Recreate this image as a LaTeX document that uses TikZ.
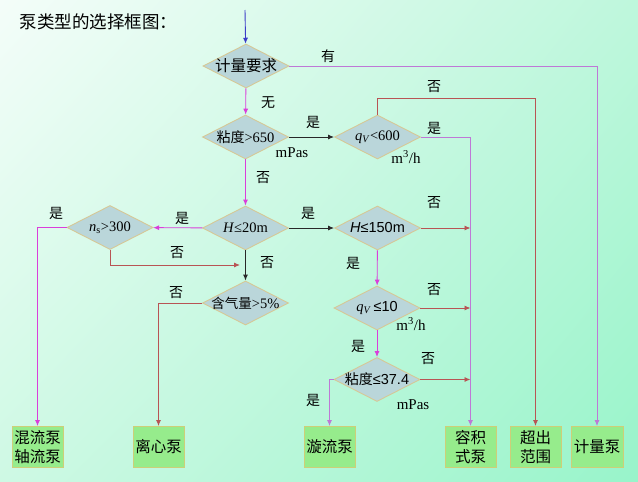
\documentclass[tikz,border=0pt]{standalone}
\usepackage{fontspec}
\usepackage{xcolor}
\setmainfont{Liberation Serif}
\newfontfamily\cjk{Noto Sans CJK SC}
\newfontfamily\arial{Liberation Sans}
\usetikzlibrary{shapes.geometric, shadings, arrows.meta}
\definecolor{bgA}{RGB}{244,253,249}
\definecolor{bgB}{RGB}{190,247,220}
\definecolor{bgC}{RGB}{206,249,228}
\definecolor{bgD}{RGB}{152,244,202}
\definecolor{diafill}{RGB}{186,214,218}
\definecolor{dialine}{RGB}{214,200,150}
\definecolor{boxfill}{RGB}{150,236,140}
\definecolor{boxline}{RGB}{206,206,120}
\definecolor{navy}{RGB}{60,60,200}
\definecolor{vio}{RGB}{190,120,214}
\definecolor{mag}{RGB}{218,62,218}
\definecolor{brn}{RGB}{184,84,84}
\definecolor{dark}{RGB}{40,40,40}

\begin{document}
\begin{tikzpicture}[x=1pt, y=-1pt, >={Latex[length=6pt, width=5pt]}, line width=0.9pt,
		dia/.style={diamond, draw=dialine, fill=diafill, shape aspect=2, inner xsep=-20pt, inner ysep=0pt, minimum width=86pt, minimum height=44pt, font=\fontsize{14.5}{14.5}\selectfont},
		box/.style={draw=boxline, fill=boxfill, minimum width=51pt, minimum height=41pt, inner sep=0pt, align=center, font=\cjk\fontsize{15.5}{19}\selectfont},
		lbl/.style={inner sep=0pt, font=\cjk\fontsize{14}{14}\selectfont},
		unit/.style={inner sep=0pt, font=\fontsize{15}{15}\selectfont}]
				% \draw [step=20, gray, very thin] (0, 0) grid (638, 482);
				\shade [upper left=bgA, upper right=bgB, lower left=bgC, lower right=bgD] (0, 0) rectangle (638, 482);
				\node [anchor=west, font=\cjk\fontsize{17.5}{18}\selectfont] (title) at (16, 22) {泵类型的选择框图：};
				% decisions
				\node [dia, font=\cjk\fontsize{15.5}{15.5}\selectfont] (meter) at (246, 66) {计量要求};
				\node [dia] (visc) at (245.5, 137) {{\cjk\fontsize{14}{14}\selectfont 粘度}>650};
				\node [dia] (qa) at (377.5, 137) {\textit{q}\textsubscript{\textit{V}}<600};
				\node [dia] (hlow) at (245.5, 228) {\textit{H}≤20m};
				\node [dia, font=\arial\fontsize{14.5}{14.5}\selectfont] (hhigh) at (377.5, 228) {\textit{H}≤150m};
				\node [dia] (ns) at (110, 227.5) {\textit{n}\textsubscript{s}>300};
				\node [dia] (gas) at (245.5, 303) {{\cjk\fontsize{13.5}{13.5}\selectfont 含气量}>5\%};
				\node [dia] (qb) at (377, 308) {\textit{q}\textsubscript{\textit{V}}\,{\arial ≤10}};
				\node [dia] (vb) at (377, 379.5) {{\cjk\fontsize{14}{14}\selectfont 粘度}{\arial ≤37.4}};
				% pump types
				\node [box] (mix) at (37.5, 447) {混流泵\\轴流泵};
				\node [box] (cent) at (158.5, 447) {离心泵};
				\node [box] (vortex) at (329.5, 447) {漩流泵};
				\node [box] (posd) at (470.5, 447) {容积\\式泵};
				\node [box] (over) at (535.5, 447) {超出\\范围};
				\node [box, minimum width=52pt] (meterpump) at (597, 447) {计量泵};
				% connectors
				\coordinate (start) at (245, 10);
				\coordinate (qtop) at (377.5, 98);
				\coordinate (join) at (240, 265);
				\draw [navy, ->] (start) -- (meter);
				\draw [vio, ->] (meter) -| (meterpump);
				\draw [mag, ->] (meter) -- (visc);
				\draw [dark, ->] (visc) -- (qa);
				\draw [brn, ->] (qa.north) -- (qtop) -| (over);
				\draw [vio, ->] (qa.east) -| (posd);
				\draw [mag, ->] (visc) -- (hlow);
				\draw [mag, ->] (hlow) -- (ns);
				\draw [mag, ->] (ns.west) -| (mix);
				\draw [brn, ->] (ns.south) |- (join);
				\draw [dark, ->] (hlow) -- (gas);
				\draw [brn, ->] (gas.west) -| (cent);
				\draw [dark, ->] (hlow) -- (hhigh);
				\draw [brn, ->] (hhigh.east) -- (hhigh.east -| posd.north);
				\draw [mag, ->] (hhigh) -- (qb);
				\draw [brn, ->] (qb.east) -- (qb.east -| posd.north);
				\draw [mag, ->] (qb) -- (vb);
				\draw [brn, ->] (vb.east) -- (vb.east -| posd.north);
				\draw [vio, ->] (vb.west) -| (vortex);
				% branch labels
				\node [lbl] (l1) at (328, 56) {有};
				\node [lbl] (l2) at (268, 103) {无};
				\node [lbl] (l3) at (313, 122) {是};
				\node [unit] (u1) at (292, 153) {mPas};
				\node [unit] (u2) at (406, 157) {m\textsuperscript{3}/h};
				\node [lbl] (l4) at (434, 87) {否};
				\node [lbl] (l5) at (434, 128) {是};
				\node [lbl] (l6) at (263, 178) {否};
				\node [lbl] (l7) at (308, 213) {是};
				\node [lbl] (l8) at (434, 203) {否};
				\node [lbl] (l9) at (267, 263) {否};
				\node [lbl] (l10) at (353, 263) {是};
				\node [lbl] (l11) at (182, 218) {是};
				\node [lbl] (l12) at (56, 213) {是};
				\node [lbl] (l13) at (177, 253) {否};
				\node [lbl] (l14) at (176, 293) {否};
				\node [lbl] (l15) at (434, 290) {否};
				\node [unit] (u3) at (411, 324) {m\textsuperscript{3}/h};
				\node [lbl] (l16) at (358, 346) {是};
				\node [lbl] (l17) at (428, 359) {否};
				\node [lbl] (l18) at (313, 400) {是};
				\node [unit] (u4) at (413, 405) {mPas};
			\end{tikzpicture}
\end{document}
